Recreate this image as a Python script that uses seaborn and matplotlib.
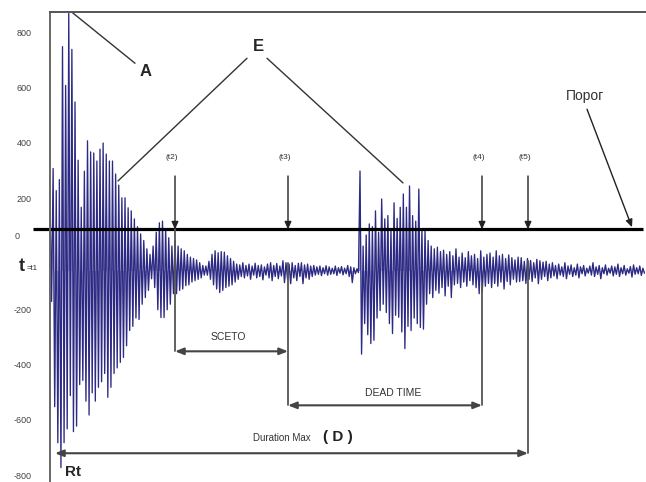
import numpy as np
import pandas as pd
import matplotlib
matplotlib.use("Agg")
import matplotlib.pyplot as plt
import matplotlib.transforms as mtransforms
import seaborn as sns

# style
sns.set_style("white")
plt.rcParams["font.family"] = ["Liberation Sans", "DejaVu Sans"]

# --- waveform: peak / trough of every cycle per stretch ---
# stretch 1: main burst (t1 .. t2)
burst1_span = (0, 125)
burst1_peaks = [230, 340, 260, 300, 780, 640, 900, 770, 580, 370,
                200, 330, 440, 400, 396, 367, 410, 432, 392, 367,
                367, 320, 280, 234, 234, 198, 187, 158, 130, 104,
                80, 50, 30, 60, 110, 144, 150, 120, 90, 60]
burst1_troughs = [-140, -520, -650, -740, -650, -600, -480, -610, -590, -440,
                  -425, -500, -550, -470, -500, -450, -430, -400, -486, -450,
                  -400, -380, -360, -342, -300, -245, -230, -200, -205, -150,
                  -126, -100, -58, -90, -170, -198, -198, -170, -150, -112]

# stretch 2: ringing down and noise (t2 .. second burst)
tail1_span = (125, 310)
tail1_peaks = [79, 60, 50, 43, 30, 20, 15, 10, 0, -10,
               -12, 5, 30, 43, 36, 40, 38, 25, 15, 5,
               -5, -8, 0, -10, -5, -12, -2, -10, -8, -15,
               -5, 0, -10, -3, -12, 7, 0, -5, 0, -10,
               -2, 0, -8, -5, -12, -10, -15, -12, -18, -11,
               -15, -20, -12, -18, -14, -20, -10, -15, -18, -22]
tail1_troughs = [-112, -100, -95, -83, -80, -70, -65, -60, -55, -45,
                 -45, -60, -80, -95, -108, -100, -90, -85, -80, -70,
                 -60, -50, -55, -48, -60, -45, -55, -50, -62, -45,
                 -55, -65, -50, -58, -48, -72, -60, -76, -55, -65,
                 -50, -76, -55, -60, -50, -45, -42, -47, -40, -45,
                 -42, -40, -46, -38, -44, -40, -50, -72, -40, -36]

# stretch 3: second burst (t3 .. t4)
burst2_span = (310, 440)
burst2_peaks = [331, 60, 100, 140, 130, 187, 110, 230, 158, 170,
                120, 216, 160, 200, 248, 200, 277, 170, 150, 266,
                120, 115, 80, 60, 50, 56, 40, 45, 30, 40,
                25, 50, 20, 35, 18, 40, 25, 30, 15, 43,
                20, 30]
burst2_troughs = [-330, -220, -260, -292, -280, -200, -173, -150, -180, -220,
                  -256, -190, -197, -250, -310, -230, -245, -200, -220, -234,
                  -240, -150, -112, -126, -100, -110, -90, -120, -85, -126,
                  -80, -75, -90, -70, -85, -65, -80, -90, -112, -105,
                  -85, -75]

# stretch 4: final decay (t4 .. end)
tail2_span = (440, 596)
tail2_peaks = [35, 20, 43, 25, 30, 15, 28, 18, 10, 20,
               18, 5, 15, 8, 0, 12, 7, 2, 5, -5,
               0, -10, -5, -15, 0, -12, -8, -18, -5, -15,
               -10, -20, -12, 0, -15, -10, -18, -8, -20, -12,
               -15, -5, -18, -10, -22, -14, -8, -18, -12, -20]
tail2_troughs = [-90, -75, -85, -70, -95, -68, -80, -60, -70, -68,
                 -65, -75, -60, -68, -55, -76, -60, -50, -65, -55,
                 -48, -58, -45, -50, -58, -42, -50, -45, -55, -40,
                 -48, -38, -45, -50, -42, -58, -40, -45, -38, -48,
                 -42, -50, -40, -45, -38, -52, -42, -40, -46, -38]

baseline = -28
threshold = 120

# event times (same units as the waveform time axis)
t_marks = [125, 238, 432, 478]
t_names = ["(t2)", "(t3)", "(t4)", "(t5)"]

yticks = [800, 600, 400, 200, 0, -200, -400, -600, -800]
ytick_labels = ["800", "600", "400", "200", "", "-200", "-400", "-600", "-800"]


def stretch(span, peaks, troughs):
    vals = [v for pair in zip(peaks, troughs) for v in pair]
    t = np.linspace(span[0], span[1], len(vals), endpoint=False)
    return pd.DataFrame({"t": t, "amp": vals})


wave = pd.concat([
    stretch(burst1_span, burst1_peaks, burst1_troughs),
    stretch(tail1_span, tail1_peaks, tail1_troughs),
    stretch(burst2_span, burst2_peaks, burst2_troughs),
    stretch(tail2_span, tail2_peaks, tail2_troughs),
], ignore_index=True)

# --- figure ---
fig = plt.figure(figsize=(6.46, 4.82), dpi=100)
ax = fig.add_axes([50 / 646, -0.0162, 598 / 646, 0.9913])

ax.fill_between(wave["t"], wave["amp"], baseline, color="#8e8bc6", alpha=0.85, lw=0)
sns.lineplot(data=wave, x="t", y="amp", ax=ax, color="#2d2a84", linewidth=0.95,
             estimator=None, sort=False)

ax.set_xlim(0, 598)
ax.set_ylim(-820, 905)
ax.set_xlabel("")
ax.set_ylabel("")
ax.set_xticks([])

for side in ["right", "bottom"]:
    ax.spines[side].set_visible(False)
ax.spines["top"].set_color("#555555")
ax.spines["top"].set_linewidth(1.4)
ax.spines["left"].set_color("#666666")
ax.spines["left"].set_linewidth(1.4)

ax.set_yticks(yticks, ytick_labels)
ax.tick_params(axis="y", direction="inout", length=4, width=0.8, color="#555555",
               labelsize=6.5, labelcolor="#444444", pad=11)
shift = mtransforms.ScaledTranslation(0, 0.09, fig.dpi_scale_trans)
for lbl in ax.get_yticklabels():
    lbl.set_transform(lbl.get_transform() + shift)
ax.text(-33, 94, "0", fontsize=6.5, color="#444444", ha="center", va="center", clip_on=False)

# t = t1 label
ax.text(-31, -14, "t", fontsize=13, fontweight="bold", ha="left", va="center")
ax.text(-23, -20, "=t1", fontsize=5.5, ha="left", va="center")

# threshold line
ax.plot([-17, 593], [threshold, threshold], color="black", lw=2.3,
        solid_capstyle="butt", clip_on=False)

# event arrows onto the threshold
down = dict(arrowstyle="-|>,head_length=0.45,head_width=0.2", color="#222222",
            lw=1, shrinkA=0, shrinkB=0)
for tm, name in zip(t_marks, t_names):
    ax.annotate("", xy=(tm, threshold), xytext=(tm, 313), arrowprops=down)
    ax.text(tm - 3, 378, name, fontsize=6, color="#333333", ha="center", va="center")

# Порог
ax.text(535, 601, "Порог", fontsize=10, color="#333333", ha="center", va="center")
ax.annotate("", xy=(582, threshold + 8), xytext=(537, 554), arrowprops=down)

# A
ax.text(96, 691, "A", fontsize=12, fontweight="bold", ha="center", va="center")
ax.plot([22, 85], [904, 720], color="#333333", lw=1)

# E
ax.text(208, 781, "E", fontsize=12, fontweight="bold", ha="center", va="center")
ax.plot([197, 68], [738, 295], color="#333333", lw=1)
ax.plot([217, 353], [738, 288], color="#333333", lw=1)

# interval brackets
vline = dict(color="#555555", lw=1.3)
both = dict(arrowstyle="<|-|>,head_length=0.5,head_width=0.2", color="#444444",
            lw=1.5, shrinkA=0, shrinkB=0)

sceto_y, dead_y, dur_y = -320, -515, -688
ax.plot([t_marks[0], t_marks[0]], [threshold, sceto_y], **vline)
ax.plot([t_marks[1], t_marks[1]], [0, dead_y], **vline)
ax.plot([t_marks[2], t_marks[2]], [-76, dead_y], **vline)
ax.plot([t_marks[3], t_marks[3]], [7, dur_y], **vline)

ax.annotate("", xy=(t_marks[0], sceto_y), xytext=(t_marks[1], sceto_y), arrowprops=both)
ax.annotate("", xy=(t_marks[1], dead_y), xytext=(t_marks[2], dead_y), arrowprops=both)
ax.annotate("", xy=(5, dur_y), xytext=(t_marks[3], dur_y), arrowprops=both)

ax.text(178, -270, "SCETO", fontsize=7.5, color="#333333", ha="center", va="center")
ax.text(343, -472, "DEAD TIME", fontsize=7.5, color="#333333", ha="center", va="center")
ax.text(232, -634, "Duration Max", fontsize=7, color="#333333", ha="center", va="center")
ax.text(288, -630, "( D )", fontsize=11, fontweight="bold", color="#222222",
        ha="center", va="center")

# Rt
ax.text(23, -756, "Rt", fontsize=11, fontweight="bold", ha="center", va="center")

fig.savefig("out.png", dpi=100)
